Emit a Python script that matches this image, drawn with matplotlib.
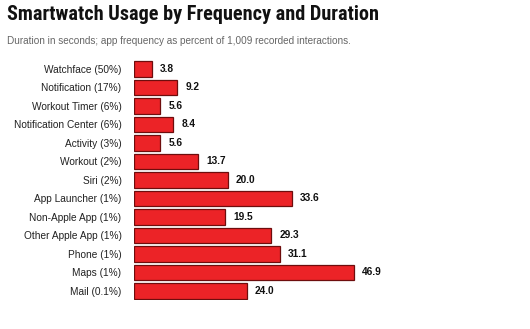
import matplotlib.pyplot as plt
import matplotlib.font_manager as fm

apps = ["Watchface (50%)", "Notification (17%)", "Workout Timer (6%)",
        "Notification Center (6%)", "Activity (3%)", "Workout (2%)",
        "Siri (2%)", "App Launcher (1%)", "Non-Apple App (1%)",
        "Other Apple App (1%)", "Phone (1%)", "Maps (1%)", "Mail (0.1%)"]
duration = [3.8, 9.2, 5.6, 8.4, 5.6, 13.7, 20.0, 33.6, 19.5, 29.3, 31.1, 46.9, 24.0]

names = {f.name for f in fm.fontManager.ttflist}
# condensed font for the title if one is around
title_font, title_size = "Roboto", 12.4
for cand, size in [("Roboto Condensed", 14.6), ("Liberation Sans Narrow", 14.6), ("DejaVu Sans Condensed", 12.3)]:
    if cand in names:
        title_font, title_size = cand, size
        break

fig = plt.figure(figsize=(5.3, 3.29), dpi=100)
ax = fig.add_axes([0.2528, 0.0874, 0.7472, 0.731])

y = range(len(apps))
ax.barh(y, duration, height=0.86, color="#ec2327", edgecolor="#6e0d0d", linewidth=0.9)
ax.set_ylim(len(apps) - 0.5, -0.5)
ax.set_xlim(0, 84.4)

for i, v in enumerate(duration):
    ax.text(v + 1.7, i, f"{v:.1f}", va="center", ha="left", fontsize=7.3,
            fontweight="bold", family="Liberation Sans", color="#111111")

ax.set_yticks(list(y))
ax.set_yticklabels(apps, fontsize=7.3, family="Liberation Sans", color="#222222")
ax.tick_params(axis="y", length=0, pad=9)
ax.set_xticks([])
for s in ax.spines.values():
    s.set_visible(False)

fig.text(0.013, 0.955, "Smartwatch Usage by Frequency and Duration", fontsize=title_size,
         fontweight="bold", family=title_font, va="center", ha="left", color="#111111")
fig.text(0.013, 0.875, "Duration in seconds; app frequency as percent of 1,009 recorded interactions.",
         fontsize=7.2, family="Liberation Sans", va="center", ha="left", color="#666666")

fig.savefig("out.png", dpi=100)
